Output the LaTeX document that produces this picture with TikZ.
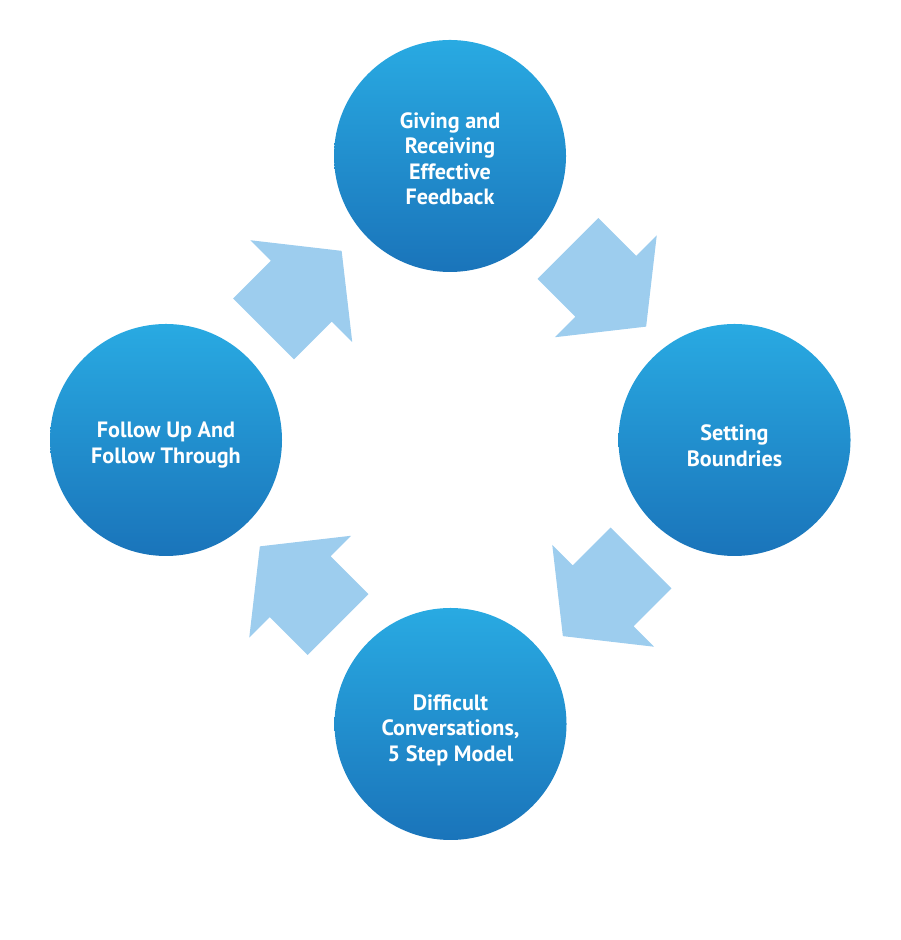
\documentclass[tikz,border=0pt]{standalone}
\usepackage{fontspec}
\setmainfont{PT Sans}
\usetikzlibrary{positioning}
\definecolor{cTop}{HTML}{29AAE2}
\definecolor{cBottom}{HTML}{1A74BA}
\definecolor{cArrow}{HTML}{9DCDEE}
\newcommand{\stagetext}[2]{\raisebox{#1}[0pt][0pt]{\begin{tabular}{@{}c@{}}#2\end{tabular}}}
\tikzset{
  stage/.style={circle, minimum size=4.64cm, inner sep=0pt,
                top color=cTop, bottom color=cBottom, text=white,
                font=\bfseries\fontsize{12.6}{14.5}\selectfont},
  cyclearrow/.pic={
    \fill[cArrow] (0,-0.86) -- (1.07,-0.86) -- (1.07,-1.44) -- (2.21,0)
      -- (1.07,1.44) -- (1.07,0.86) -- (0,0.86) -- cycle;
  },
}
\begin{document}
\begin{tikzpicture}
    \useasboundingbox (0,0) rectangle (18,18.8);
    % the four stages
    \node[stage] (give)   at (9,15.68)   {\stagetext{-6pt}{Giving and\\Receiving\\Effective\\Feedback}};
    \node[stage] (bounds) at (14.69,10)  {\stagetext{-7.7pt}{Setting\\Boundries}};
    \node[stage] (talk)   at (9.01,4.32) {\stagetext{-6.8pt}{Difficult\\Conversations,\\5 Step Model}};
    \node[stage] (follow) at (3.32,10)   {\stagetext{-6pt}{Follow Up And\\Follow Through}};
    % arrows between them
    \pic[rotate=-45]  at (11.36,13.83) {cyclearrow};
    \pic[rotate=-135] at (12.82,7.64)  {cyclearrow};
    \pic[rotate=135]  at (6.76,6.31)   {cyclearrow};
    \pic[rotate=45]   at (5.27,12.22)  {cyclearrow};
\end{tikzpicture}
\end{document}
